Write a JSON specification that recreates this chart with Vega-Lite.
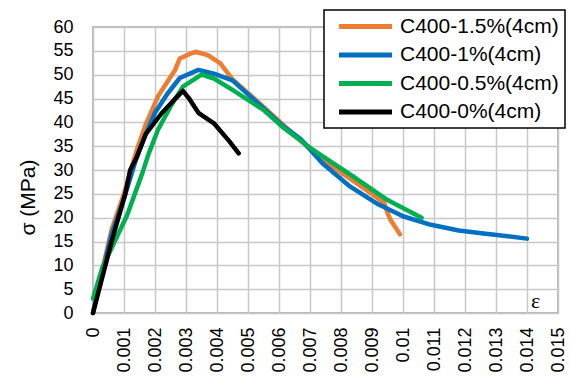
{
  "$schema": "https://vega.github.io/schema/vega-lite/v6.json",
  "width": 465,
  "height": 286,
  "autosize": "none",
  "padding": {"left": 93, "top": 27, "right": 12, "bottom": 70},
  "background": "white",
  "data": {
    "values": [
      {"s": "C400-1.5%(4cm)", "e": 0, "y": 0},
      {"s": "C400-1.5%(4cm)", "e": 0.0003, "y": 9},
      {"s": "C400-1.5%(4cm)", "e": 0.0006, "y": 17.5},
      {"s": "C400-1.5%(4cm)", "e": 0.001, "y": 25},
      {"s": "C400-1.5%(4cm)", "e": 0.0014, "y": 34},
      {"s": "C400-1.5%(4cm)", "e": 0.0017, "y": 39.5},
      {"s": "C400-1.5%(4cm)", "e": 0.0021, "y": 45.5},
      {"s": "C400-1.5%(4cm)", "e": 0.0025, "y": 49.5},
      {"s": "C400-1.5%(4cm)", "e": 0.00265, "y": 51},
      {"s": "C400-1.5%(4cm)", "e": 0.0028, "y": 53.4},
      {"s": "C400-1.5%(4cm)", "e": 0.0031, "y": 54.3},
      {"s": "C400-1.5%(4cm)", "e": 0.0033, "y": 54.8},
      {"s": "C400-1.5%(4cm)", "e": 0.0037, "y": 54.1},
      {"s": "C400-1.5%(4cm)", "e": 0.0041, "y": 52.4},
      {"s": "C400-1.5%(4cm)", "e": 0.0045, "y": 49},
      {"s": "C400-1.5%(4cm)", "e": 0.0052, "y": 45},
      {"s": "C400-1.5%(4cm)", "e": 0.0062, "y": 39.1},
      {"s": "C400-1.5%(4cm)", "e": 0.0074, "y": 32.1},
      {"s": "C400-1.5%(4cm)", "e": 0.0082, "y": 28.6},
      {"s": "C400-1.5%(4cm)", "e": 0.0091, "y": 24.5},
      {"s": "C400-1.5%(4cm)", "e": 0.0094, "y": 23},
      {"s": "C400-1.5%(4cm)", "e": 0.0095, "y": 21},
      {"s": "C400-1.5%(4cm)", "e": 0.0096, "y": 19.5},
      {"s": "C400-1.5%(4cm)", "e": 0.0099, "y": 16.5},
      {"s": "C400-1%(4cm)", "e": 0, "y": 0},
      {"s": "C400-1%(4cm)", "e": 0.0003, "y": 8.5},
      {"s": "C400-1%(4cm)", "e": 0.0006, "y": 16.5},
      {"s": "C400-1%(4cm)", "e": 0.001, "y": 24},
      {"s": "C400-1%(4cm)", "e": 0.0014, "y": 32.5},
      {"s": "C400-1%(4cm)", "e": 0.0017, "y": 37.5},
      {"s": "C400-1%(4cm)", "e": 0.002, "y": 42},
      {"s": "C400-1%(4cm)", "e": 0.0024, "y": 46},
      {"s": "C400-1%(4cm)", "e": 0.0028, "y": 49.3},
      {"s": "C400-1%(4cm)", "e": 0.0034, "y": 51},
      {"s": "C400-1%(4cm)", "e": 0.0039, "y": 50.2},
      {"s": "C400-1%(4cm)", "e": 0.0045, "y": 48.8},
      {"s": "C400-1%(4cm)", "e": 0.0052, "y": 44.7},
      {"s": "C400-1%(4cm)", "e": 0.0061, "y": 39.4},
      {"s": "C400-1%(4cm)", "e": 0.0067, "y": 36.5},
      {"s": "C400-1%(4cm)", "e": 0.0074, "y": 31.4},
      {"s": "C400-1%(4cm)", "e": 0.0083, "y": 26.5},
      {"s": "C400-1%(4cm)", "e": 0.0092, "y": 22.8},
      {"s": "C400-1%(4cm)", "e": 0.01, "y": 20.3},
      {"s": "C400-1%(4cm)", "e": 0.0109, "y": 18.5},
      {"s": "C400-1%(4cm)", "e": 0.0118, "y": 17.3},
      {"s": "C400-1%(4cm)", "e": 0.0126, "y": 16.7},
      {"s": "C400-1%(4cm)", "e": 0.014, "y": 15.6},
      {"s": "C400-0.5%(4cm)", "e": 0, "y": 3},
      {"s": "C400-0.5%(4cm)", "e": 0.0003, "y": 9.5},
      {"s": "C400-0.5%(4cm)", "e": 0.0007, "y": 15},
      {"s": "C400-0.5%(4cm)", "e": 0.0011, "y": 20.5},
      {"s": "C400-0.5%(4cm)", "e": 0.0016, "y": 29.5},
      {"s": "C400-0.5%(4cm)", "e": 0.0018, "y": 33.5},
      {"s": "C400-0.5%(4cm)", "e": 0.0021, "y": 38.5},
      {"s": "C400-0.5%(4cm)", "e": 0.0025, "y": 43.3},
      {"s": "C400-0.5%(4cm)", "e": 0.0029, "y": 47.5},
      {"s": "C400-0.5%(4cm)", "e": 0.0035, "y": 50},
      {"s": "C400-0.5%(4cm)", "e": 0.0039, "y": 49.2},
      {"s": "C400-0.5%(4cm)", "e": 0.0045, "y": 46.8},
      {"s": "C400-0.5%(4cm)", "e": 0.0055, "y": 42.6},
      {"s": "C400-0.5%(4cm)", "e": 0.0061, "y": 39.1},
      {"s": "C400-0.5%(4cm)", "e": 0.0071, "y": 34.2},
      {"s": "C400-0.5%(4cm)", "e": 0.0084, "y": 28.6},
      {"s": "C400-0.5%(4cm)", "e": 0.0095, "y": 23.7},
      {"s": "C400-0.5%(4cm)", "e": 0.0106, "y": 20},
      {"s": "C400-0%(4cm)", "e": 0, "y": 0},
      {"s": "C400-0%(4cm)", "e": 0.0002, "y": 5},
      {"s": "C400-0%(4cm)", "e": 0.0006, "y": 15},
      {"s": "C400-0%(4cm)", "e": 0.00104, "y": 25},
      {"s": "C400-0%(4cm)", "e": 0.0012, "y": 30},
      {"s": "C400-0%(4cm)", "e": 0.0014, "y": 32.5},
      {"s": "C400-0%(4cm)", "e": 0.0017, "y": 37.5},
      {"s": "C400-0%(4cm)", "e": 0.0022, "y": 41.8},
      {"s": "C400-0%(4cm)", "e": 0.0026, "y": 44.6},
      {"s": "C400-0%(4cm)", "e": 0.0029, "y": 46.6},
      {"s": "C400-0%(4cm)", "e": 0.0031, "y": 45},
      {"s": "C400-0%(4cm)", "e": 0.0034, "y": 42},
      {"s": "C400-0%(4cm)", "e": 0.0039, "y": 39.8},
      {"s": "C400-0%(4cm)", "e": 0.0044, "y": 36},
      {"s": "C400-0%(4cm)", "e": 0.0047, "y": 33.5}
    ]
  },
  "mark": {"type": "line", "strokeWidth": 4.5, "strokeCap": "round", "strokeJoin": "round"},
  "encoding": {
    "x": {
      "field": "e",
      "type": "quantitative",
      "scale": {"domain": [0, 0.015], "nice": false, "zero": false},
      "axis": {
        "title": "ε",
        "titleX": 442,
        "titleY": -13,
        "titleAlign": "center",
        "titleBaseline": "middle",
        "titleFont": "Liberation Serif",
        "titleFontSize": 22,
        "titleFontWeight": "normal",
        "titleColor": "black",
        "values": [0, 0.001, 0.002, 0.003, 0.004, 0.005, 0.006, 0.007, 0.008, 0.009, 0.01, 0.011, 0.012, 0.013, 0.014, 0.015],
        "format": ".3~f",
        "labelAngle": 270,
        "labelPadding": 14,
        "labelFontSize": 18
      }
    },
    "y": {
      "field": "y",
      "type": "quantitative",
      "scale": {"domain": [0, 60], "nice": false},
      "axis": {
        "title": "σ (MPa)",
        "titleX": -65,
        "titleY": 170,
        "titleAngle": 270,
        "titleAlign": "center",
        "titleBaseline": "middle",
        "titleFontSize": 21,
        "titleFontWeight": "normal",
        "titleColor": "black",
        "values": [0, 5, 10, 15, 20, 25, 30, 35, 40, 45, 50, 55, 60],
        "labelPadding": 20,
        "labelFontSize": 18
      }
    },
    "color": {
      "field": "s",
      "type": "nominal",
      "sort": null,
      "scale": {
        "domain": ["C400-1.5%(4cm)", "C400-1%(4cm)", "C400-0.5%(4cm)", "C400-0%(4cm)"],
        "range": ["#ED7D31", "#0070C0", "#00B050", "#000000"]
      },
      "legend": {
        "title": null,
        "orient": "none",
        "legendX": 231,
        "legendY": -17,
        "symbolType": "M-5.3,0H5.3",
        "symbolSize": 100,
        "symbolStrokeWidth": 5,
        "symbolOffset": 25,
        "labelOffset": 24,
        "labelFontSize": 21,
        "labelColor": "black",
        "rowPadding": 6.5,
        "padding": 6,
        "fillColor": "white",
        "strokeColor": "black"
      }
    }
  },
  "config": {
    "font": "Liberation Sans",
    "view": {"stroke": "#a0a0a0", "strokeWidth": 1.5},
    "axis": {
      "ticks": false,
      "tickSize": 0,
      "domain": false,
      "grid": true,
      "gridColor": "#c8c8c8",
      "gridWidth": 1.5,
      "gridOpacity": 1,
      "labelColor": "black",
      "labelFont": "Liberation Sans"
    },
    "legend": {"strokeWidth": 1.5}
  }
}
